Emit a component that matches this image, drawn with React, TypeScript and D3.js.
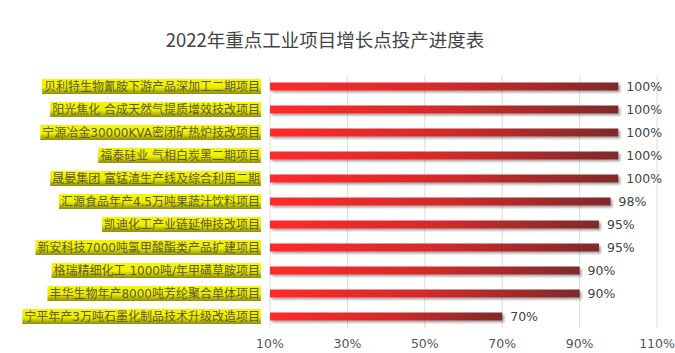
import { useEffect, useRef } from 'react';
import * as d3 from 'd3';

const projects = [
  '贝利特生物氰胺下游产品深加工二期项目',
  '阳光焦化 合成天然气提质增效技改项目',
  '宁源冶金30000KVA密闭矿热炉技改项目',
  '福泰硅业 气相白炭黑二期项目',
  '晟晏集团 富锰渣生产线及综合利用二期',
  '汇源食品年产4.5万吨果蔬汁饮料项目',
  '凯迪化工产业链延伸技改项目',
  '新安科技7000吨氯甲酸酯类产品扩建项目',
  '格瑞精细化工 1000吨/年甲磺草胺项目',
  '丰华生物年产8000吨芳纶聚合单体项目',
  '宁平年产3万吨石墨化制品技术升级改造项目',
];
const progress = [100, 100, 100, 100, 100, 98, 95, 95, 90, 90, 70];
const xTicks = [10, 30, 50, 70, 90, 110];

const title = '2022年重点工业项目增长点投产进度表';
const sans = '"DejaVu Sans", "Noto Sans CJK SC", sans-serif';

function App() {
  const ref = useRef<SVGSVGElement>(null);

  useEffect(() => {
    const svg = d3.select(ref.current);
    svg.selectAll('*').remove();

    const left = 270, right = 657, top = 75, bottom = 328;

    const x = d3.scaleLinear().domain([10, 110]).range([left, right]);
    const y = d3.scaleBand().domain(projects).range([top, bottom]);
    const barH = 8;

    const defs = svg.append('defs');
    const barGrad = defs.append('linearGradient').attr('id', 'barGrad')
      .attr('x1', '0%').attr('x2', '100%').attr('y1', '0%').attr('y2', '0%');
    barGrad.append('stop').attr('offset', '0%').attr('stop-color', '#ff2a2a');
    barGrad.append('stop').attr('offset', '50%').attr('stop-color', '#d42a2a');
    barGrad.append('stop').attr('offset', '100%').attr('stop-color', '#7e2a2a');

    const labGrad = defs.append('linearGradient').attr('id', 'labGrad')
      .attr('x1', '0%').attr('x2', '0%').attr('y1', '0%').attr('y2', '100%');
    labGrad.append('stop').attr('offset', '0%').attr('stop-color', '#f6f600');
    labGrad.append('stop').attr('offset', '55%').attr('stop-color', '#eeee00');
    labGrad.append('stop').attr('offset', '100%').attr('stop-color', '#8c8c10');

    const shadow = defs.append('filter').attr('id', 'shadow')
      .attr('x', '-5%').attr('y', '-50%').attr('width', '110%').attr('height', '250%');
    shadow.append('feDropShadow').attr('dx', 2).attr('dy', 2)
      .attr('stdDeviation', 1.2).attr('flood-color', '#000').attr('flood-opacity', 0.35);

    // title
    svg.append('text')
      .attr('x', 325).attr('y', 47)
      .attr('text-anchor', 'middle')
      .attr('font-family', '"Noto Sans CJK SC", sans-serif')
      .attr('font-size', 18.5)
      .attr('fill', '#444')
      .text(title);

    // grid
    svg.append('g').selectAll('line').data(xTicks).enter().append('line')
      .attr('x1', (d) => x(d)).attr('x2', (d) => x(d))
      .attr('y1', 76).attr('y2', 328)
      .attr('stroke', '#dcdcdc').attr('stroke-width', 1);

    // x tick labels
    svg.append('g').selectAll('text').data(xTicks).enter().append('text')
      .attr('x', (d) => x(d)).attr('y', 348)
      .attr('text-anchor', 'middle')
      .attr('font-family', sans).attr('font-size', 12.5)
      .attr('fill', '#555')
      .text((d) => d + '%');

    // bars
    svg.append('g').selectAll('rect').data(projects).enter().append('rect')
      .attr('x', x(10))
      .attr('y', (d) => (y(d) as number) + y.bandwidth() / 2 - barH / 2)
      .attr('width', (d, i) => x(progress[i]) - x(10))
      .attr('height', barH)
      .attr('fill', 'url(#barGrad)')
      .attr('filter', 'url(#shadow)');

    // value labels
    svg.append('g').selectAll('text').data(projects).enter().append('text')
      .attr('x', (d, i) => x(progress[i]) + 8)
      .attr('y', (d) => (y(d) as number) + y.bandwidth() / 2 + 4.5)
      .attr('font-family', sans).attr('font-size', 12.5)
      .attr('fill', '#444')
      .text((d, i) => progress[i] + '%');

    // category labels with yellow boxes
    const labels = svg.append('g');
    projects.forEach((p) => {
      const cy = (y(p) as number) + y.bandwidth() / 2;
      const g = labels.append('g');
      const bg = g.append('rect');
      const t = g.append('text')
        .attr('x', 260).attr('y', cy + 4.5)
        .attr('text-anchor', 'end')
        .attr('font-family', sans)
        .attr('font-size', 12)
        .attr('fill', '#5a5a30')
        .text(p);
      const w = (t.node() as SVGTextElement).getComputedTextLength();
      bg.attr('x', 260 - w - 2).attr('y', cy - 7.5)
        .attr('width', w + 3).attr('height', 15)
        .attr('fill', 'url(#labGrad)');
    });
  }, []);

  return (
    <svg
      ref={ref}
      width={675}
      height={353}
      style={{ position: 'absolute', left: 0, top: 0, background: '#fff' }}
    />
  );
}

export default App;
